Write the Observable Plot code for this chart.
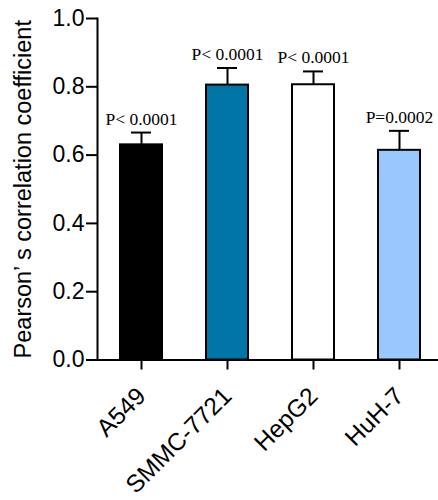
<!DOCTYPE html>
<html>
<head>
<meta charset="utf-8">
<script src="https://cdn.jsdelivr.net/npm/d3@7"></script>
<script src="https://cdn.jsdelivr.net/npm/@observablehq/plot@0.6"></script>
<style>
  html, body { margin: 0; padding: 0; background: #fff; }
  #chart svg { display: block; }
</style>
</head>
<body>
<div id="chart"></div>
<script>
const cells = ["A549", "SMMC-7721", "HepG2", "HuH-7"];
const means = [0.630, 0.805, 0.806, 0.614];
const sds = [0.036, 0.050, 0.039, 0.057];
const pLabels = ["P< 0.0001", "P< 0.0001", "P< 0.0001", "P=0.0002"];
const fills = ["#000000", "#0076a8", "#ffffff", "#99c8ff"];
const yTicks = [0, 0.2, 0.4, 0.6, 0.8, 1.0];
const yTitle = "Pearson\u2019 s correlation coefficient";

const data = cells.map((c, i) => ({cell: c, mean: means[i], sd: sds[i], top: means[i] + sds[i], p: pLabels[i], fill: fills[i]}));

const sans = "'Liberation Sans', Arial, sans-serif";
const serif = "'Liberation Serif', 'Times New Roman', serif";

const chart = Plot.plot({
  width: 438,
  height: 500,
  marginLeft: 97,
  marginRight: 0,
  marginTop: 18,
  marginBottom: 140.5,
  style: {fontFamily: sans, background: "#fff", color: "#000"},
  x: {domain: cells, range: [97, 442.6], paddingInner: 0.508, paddingOuter: 0.245},
  y: {domain: [0, 1]},
  color: {type: "identity"},
  marks: [
    Plot.barY(data, {x: "cell", y: "mean", fill: "fill", stroke: "#000", strokeWidth: 2}),
    Plot.ruleX(data, {x: "cell", y1: "mean", y2: "top", stroke: "#000", strokeWidth: 2}),
    Plot.tickY(data, {x: "cell", y: "top", stroke: "#000", strokeWidth: 2, insetLeft: 11, insetRight: 11}),
    Plot.text(data, {x: "cell", y: "top", text: "p", fontFamily: serif, fontSize: 17.5, lineAnchor: "bottom", dy: -8, fill: "#000"}),
    Plot.ruleY([0], {stroke: "#000", strokeWidth: 2}),
    Plot.frame({anchor: "left", stroke: "#000", strokeWidth: 2}),
    Plot.axisY({ticks: yTicks, tickFormat: d3.format(".1f"), tickSize: 11, tickPadding: 2, fontSize: 23, strokeWidth: 2, label: null}),
    Plot.axisX({tickSize: 10, tickRotate: -45, tickPadding: 22, fontSize: 24.5, strokeWidth: 2, label: null}),
    Plot.text([yTitle], {frameAnchor: "left", rotate: -90, textAnchor: "middle", dx: -74, fontSize: 23.5, lineAnchor: "middle", fill: "#000"})
  ]
});

document.getElementById("chart").appendChild(chart);
</script>
</body>
</html>
